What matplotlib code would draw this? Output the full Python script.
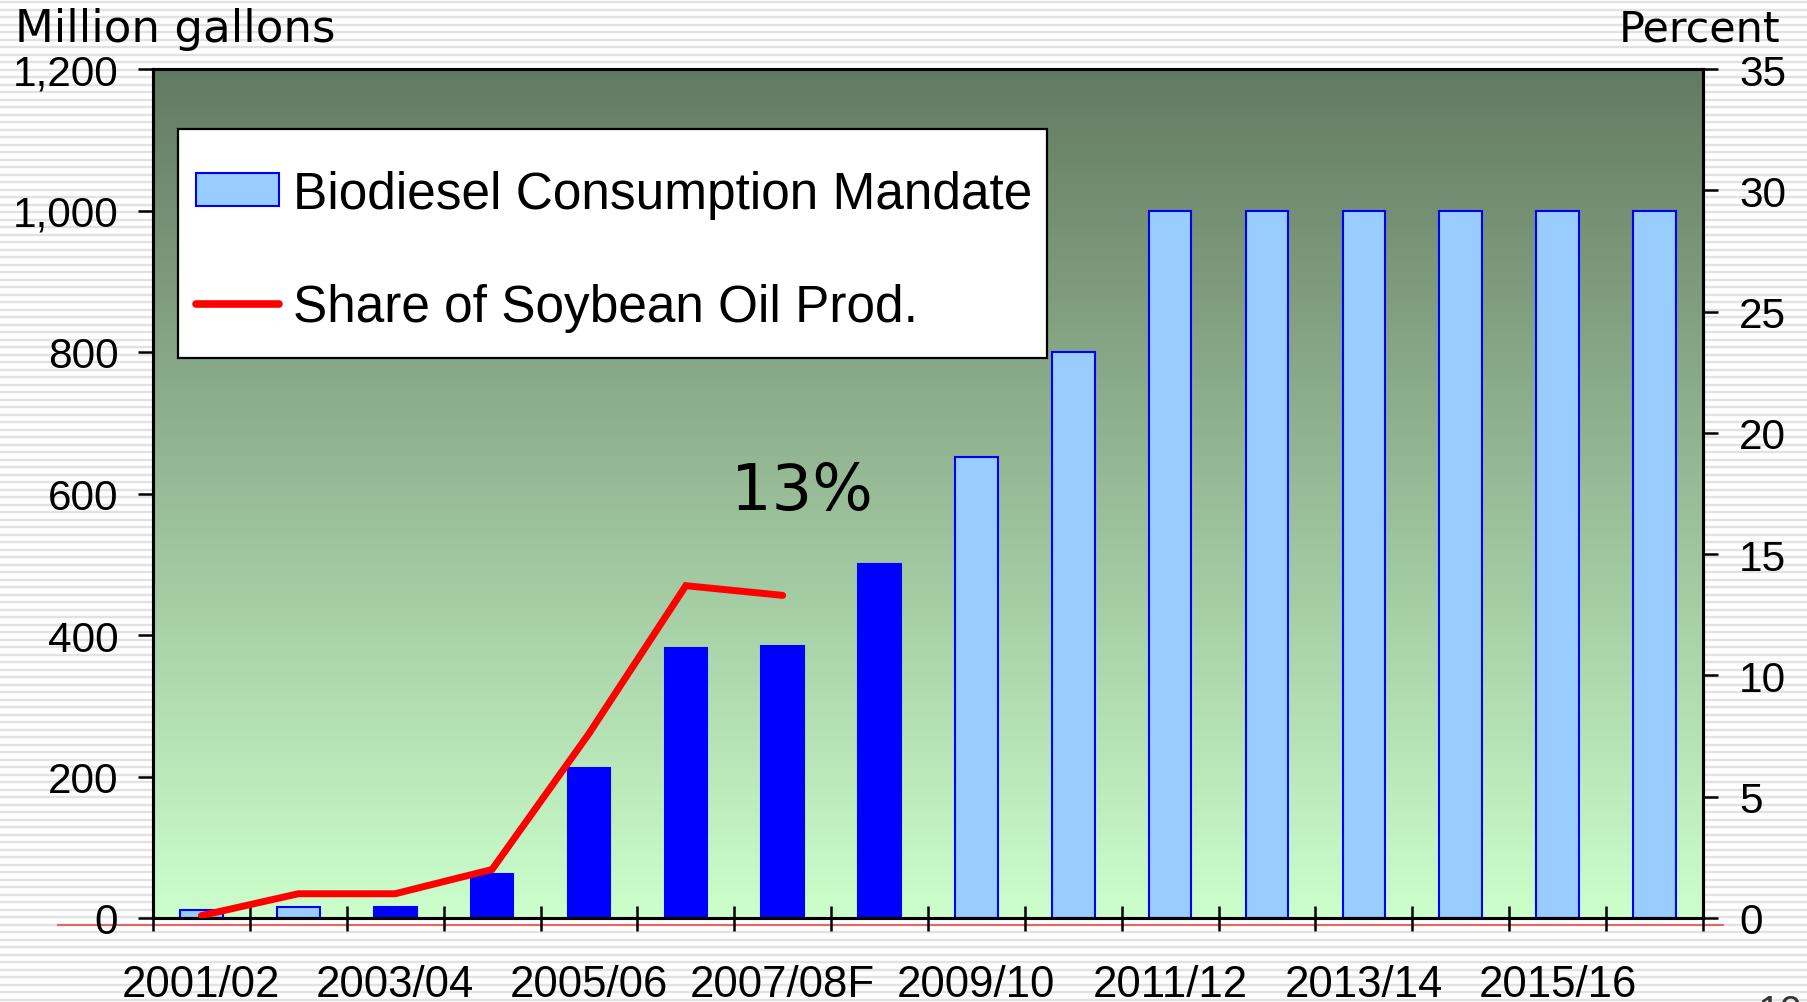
import numpy as np
import matplotlib
matplotlib.use("Agg")
import matplotlib.pyplot as plt
from matplotlib.patches import Patch, Rectangle
from matplotlib.lines import Line2D

# Biodiesel mandate (million gallons) and share of soybean oil production (%)
years = ["2001/02", "2002/03", "2003/04", "2004/05", "2005/06", "2006/07",
         "2007/08F", "2008/09", "2009/10", "2010/11", "2011/12", "2012/13",
         "2013/14", "2014/15", "2015/16", "2016/17"]
gallons = [12, 15, 16, 62, 212, 381, 384, 500, 652, 800,
           1000, 1000, 1000, 1000, 1000, 1000]
kind = ["mandate", "mandate", "actual", "actual", "actual", "actual",
        "actual", "actual", "mandate", "mandate", "mandate", "mandate",
        "mandate", "mandate", "mandate", "mandate"]
share_years = years[:7]
share = [0.1, 1.0, 1.0, 2.0, 7.6, 13.7, 13.3]

label_years = years[::2]
left_ticks = [0, 200, 400, 600, 800, 1000, 1200]
right_ticks = [0, 5, 10, 15, 20, 25, 30, 35]

light_blue = "#99CCFF"
blue = "#0000FF"
tick_font = "Liberation Sans"

fig = plt.figure(figsize=(18.08, 10.03), dpi=100)

# pinstripe slide background
bg = fig.add_axes([0, 0, 1, 1], zorder=-10)
bg.set_xlim(0, 1808)
bg.set_ylim(1003, 0)
bg.axis("off")
for yy in np.arange(3, 1003, 7.5):
    bg.axhline(yy, color="#e2e2e2", lw=1.7)

ax = fig.add_axes([153 / 1808, 1 - 919 / 1003, 1550 / 1808, 849 / 1003])
x = np.arange(len(years))

# green gradient inside the plot
top = np.array([99, 122, 98]) / 255
bot = np.array([204, 255, 204]) / 255
t = np.linspace(0, 1, 256)[:, None]
grad = (top * (1 - t) + bot * t)[:, None, :]
ax.imshow(grad, extent=[-0.5, 15.5, 0, 1200], aspect="auto", zorder=0)

colors = [blue if k == "actual" else light_blue for k in kind]
ax.bar(x, gallons, width=0.44, color=colors, edgecolor=blue, linewidth=1.5, zorder=2)

ax.set_xlim(-0.5, 15.5)
ax.set_ylim(0, 1200)
ax.set_yticks(left_ticks)
ax.set_yticklabels([f"{v:,}" for v in left_ticks], fontsize=30.5, family=tick_font)
ax.set_xticks(np.arange(-0.5, 16, 1))
ax.set_xticklabels([])
ax.set_xticks(np.arange(0, 16, 2), minor=True)
ax.set_xticklabels(label_years, minor=True, fontsize=31.5, family=tick_font)
ax.tick_params(axis="x", which="major", direction="inout", length=18, width=1.8)
ax.tick_params(axis="x", which="minor", length=0, pad=33)
ax.tick_params(axis="y", direction="out", length=11, width=1.8, pad=14)
for s in ax.spines.values():
    s.set_linewidth(2.2)
    s.set_color("black")

ax2 = ax.twinx()
ax2.set_ylim(0, 35)
ax2.set_yticks(right_ticks)
ax2.set_yticklabels([str(v) for v in right_ticks], fontsize=30.5, family=tick_font)
ax2.tick_params(axis="y", direction="out", length=11, width=1.8, pad=15)
for s in ax2.spines.values():
    s.set_linewidth(2.2)
    s.set_color("black")
ax2.plot(np.arange(len(share_years)), share, color="#FF0000", lw=5,
         solid_capstyle="round", solid_joinstyle="miter", zorder=5)
ax2.text(6.2, 17.6, "13%", fontsize=46, family="DejaVu Sans",
         ha="center", va="center")

# legend box drawn separately so its padding matches the slide
fig.add_artist(Rectangle((178 / 1808, 1 - 359 / 1003), 869 / 1808, 229 / 1003,
                         transform=fig.transFigure, facecolor="white",
                         edgecolor="black", lw=1.6, zorder=3))
handles = [Patch(facecolor=light_blue, edgecolor=blue, linewidth=1.5),
           Line2D([0], [0], color="#FF0000", lw=5.5, solid_capstyle="round")]
leg = fig.legend(handles, ["Biodiesel Consumption Mandate", "Share of Soybean Oil Prod."],
                 loc="center left", bbox_to_anchor=(196 / 1808, 1 - 252 / 1003),
                 prop={"family": tick_font, "size": 37}, frameon=False,
                 borderpad=0, labelspacing=1.25, handlelength=1.62,
                 handleheight=0.62, handletextpad=0.27, borderaxespad=0)
leg.set_zorder(4)

fig.text(15 / 1808, 1 - 42 / 1003, "Million gallons", fontsize=32.5,
         family="DejaVu Sans", ha="left", va="baseline")
fig.text(1780 / 1808, 1 - 42 / 1003, "Percent", fontsize=31,
         family="DejaVu Sans", ha="right", va="baseline")

# slide rule line under the axis and page number
fig.add_artist(Line2D([58 / 1808, 1723 / 1808], [1 - 926 / 1003] * 2,
                      color="#e06868", lw=1.5, zorder=-5))
fig.text(1758 / 1808, 1 - 994 / 1003, "10", fontsize=29, family=tick_font,
         color="#333333", ha="left", va="top")

fig.savefig("out.png", dpi=100)
